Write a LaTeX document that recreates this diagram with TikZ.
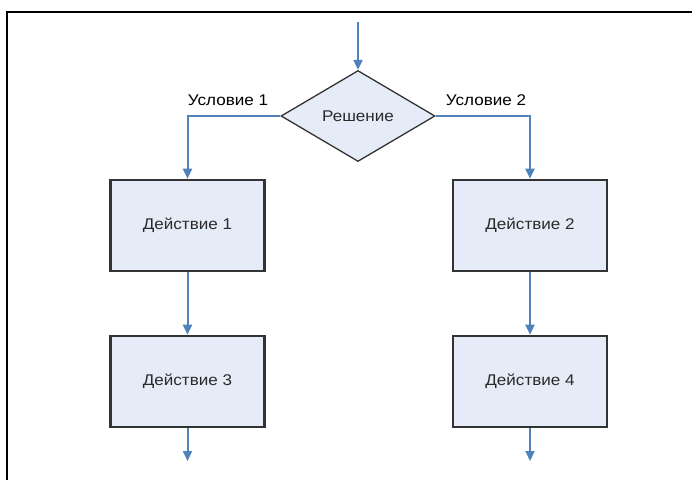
\documentclass[tikz,border=0pt]{standalone}
\usepackage{fontspec}
\setmainfont{Liberation Sans}[FakeStretch=1.1]
\usetikzlibrary{shapes.geometric,arrows.meta}
\definecolor{boxfill}{HTML}{E6ECF7}
\definecolor{linkblue}{HTML}{4F81BD}
\definecolor{edgegray}{HTML}{333333}
\definecolor{textgray}{HTML}{2A2A2A}
\tikzset{
  actbox/.style={draw=edgegray, line width=2.6pt, fill=boxfill, minimum width=154pt, minimum height=91pt, inner sep=0pt, font=\fontsize{15.5}{17}\selectfont, text=textgray},
  decbox/.style={diamond, draw=edgegray, line width=1.3pt, fill=boxfill, minimum width=154pt, minimum height=91pt, inner sep=0pt, aspect=1.7, font=\fontsize{15.5}{17}\selectfont, text=textgray},
  link/.style={draw=linkblue, line width=2pt, -{Triangle[width=9pt,length=10pt]}},
  cond/.style={font=\fontsize{15.5}{17}\selectfont, text=black, inner sep=0pt},
}
\begin{document}
\begin{tikzpicture}[x=1pt,y=-1pt]
\useasboundingbox (0,0) rectangle (692,480);
\draw[line width=2.4pt, black] (7,480) -- (7,12) -- (692,12);
\coordinate (in) at (358,22);
\node[decbox] (dec) at (358,116) {Решение};
\node[actbox] (a1) at (187.5,225.5) {Действие 1};
\node[actbox] (a2) at (530,225.5) {Действие 2};
\node[actbox] (a3) at (187.5,381.5) {Действие 3};
\node[actbox] (a4) at (530,381.5) {Действие 4};
\coordinate (o3) at (187.5,461);
\coordinate (o4) at (530,461);
\node[cond] (c1) at (228,100) {Условие 1};
\node[cond] (c2) at (486,100) {Условие 2};
\draw[link] (in) -- (dec.north);
\draw[link] (dec.west) -| (a1.north);
\draw[link] (dec.east) -| (a2.north);
\draw[link] (a1.south) -- (a3.north);
\draw[link] (a2.south) -- (a4.north);
\draw[link] (a3.south) -- (o3);
\draw[link] (a4.south) -- (o4);
\end{tikzpicture}
\end{document}
